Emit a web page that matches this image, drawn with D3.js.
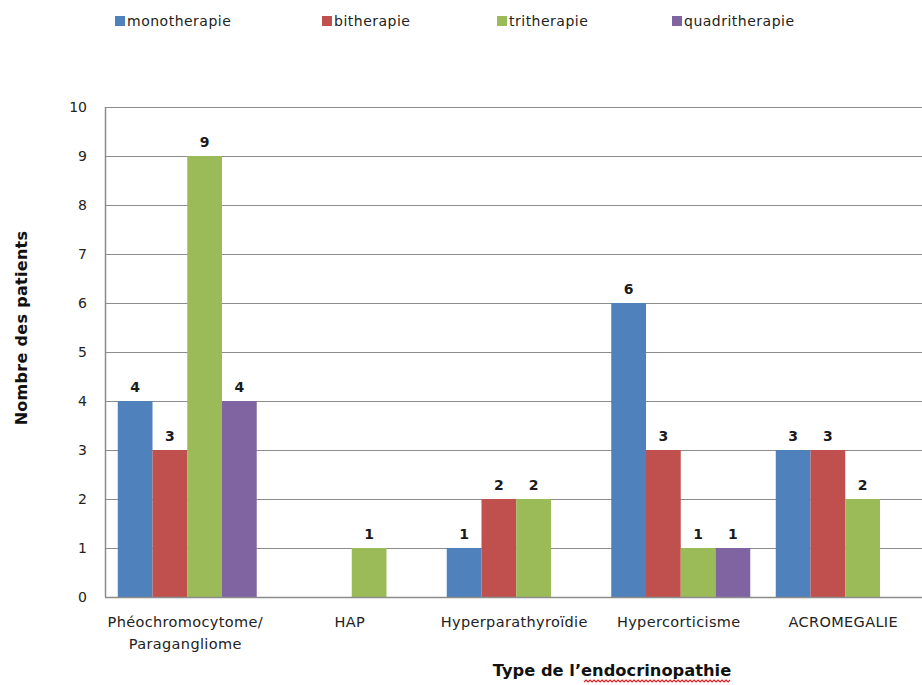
<!DOCTYPE html>
<html>
<head>
<meta charset="utf-8">
<script src="https://cdn.jsdelivr.net/npm/d3@7"></script>
<style>
  html, body { margin: 0; padding: 0; background: #fff; overflow: hidden; }
  svg { display: block; font-family: "DejaVu Sans", sans-serif; }
</style>
</head>
<body>
<svg id="chart" width="922" height="685"></svg>
<script>
const categories = ["Phéochromocytome/\nParagangliome", "HAP", "Hyperparathyroïdie", "Hypercorticisme", "ACROMEGALIE"];
const seriesNames = ["monotherapie", "bitherapie", "tritherapie", "quadritherapie"];
const monotherapie = [4, null, 1, 6, 3];
const bitherapie = [3, null, 2, 3, 3];
const tritherapie = [9, 1, 2, 1, 2];
const quadritherapie = [4, null, null, 1, null];
const yTicks = [0, 1, 2, 3, 4, 5, 6, 7, 8, 9, 10];
const colors = ["#4F81BD", "#C0504D", "#9BBB59", "#8064A2"];
const yTitle = "Nombre des patients";
const xTitle = "Type de l\u2019endocrinopathie";

const seriesValues = [monotherapie, bitherapie, tritherapie, quadritherapie];

// flatten into bar records built from the arrays
const bars = [];
categories.forEach((c, ci) => {
  seriesValues.forEach((vals, si) => {
    if (vals[ci] != null) bars.push({ ci, si, v: vals[ci] });
  });
});

const svg = d3.select("#chart");
const plot = { left: 105, top: 107, right: 927.5, bottom: 597 };

const x0 = d3.scaleBand().domain(d3.range(categories.length)).range([plot.left, plot.right]).paddingInner(0).paddingOuter(0);
const x1 = d3.scaleBand().domain(d3.range(seriesNames.length)).range([0, x0.bandwidth()]).paddingInner(0).paddingOuter(0.367);
const y = d3.scaleLinear().domain([0, 10]).range([plot.bottom, plot.top]);

// gridlines
svg.append("g").selectAll("line").data(yTicks.filter(t => t > 0)).join("line")
  .attr("x1", plot.left).attr("x2", 922)
  .attr("y1", d => y(d) + 0.5).attr("y2", d => y(d) + 0.5)
  .attr("stroke", "#8c8c8c").attr("stroke-width", 1.2);

// bars
svg.append("g").selectAll("rect").data(bars).join("rect")
  .attr("x", d => x0(d.ci) + x1(d.si))
  .attr("width", x1.bandwidth())
  .attr("y", d => y(d.v))
  .attr("height", d => y(0) - y(d.v))
  .attr("fill", d => colors[d.si]);

// data labels
svg.append("g").selectAll("text").data(bars).join("text")
  .attr("x", d => x0(d.ci) + x1(d.si) + x1.bandwidth() / 2)
  .attr("y", d => y(d.v) - 9)
  .attr("text-anchor", "middle")
  .attr("font-size", 14).attr("font-weight", "bold").attr("fill", "#1a1a1a")
  .text(d => d.v);

// axes lines
svg.append("line").attr("x1", plot.left + 0.5).attr("x2", plot.left + 0.5)
  .attr("y1", y(10)).attr("y2", y(0)).attr("stroke", "#8c8c8c").attr("stroke-width", 1.5);
svg.append("line").attr("x1", plot.left).attr("x2", 922)
  .attr("y1", y(0) + 0.5).attr("y2", y(0) + 0.5).attr("stroke", "#8c8c8c").attr("stroke-width", 1.5);

// y tick labels
svg.append("g").selectAll("text").data(yTicks).join("text")
  .attr("x", 87).attr("y", d => y(d) + 5)
  .attr("text-anchor", "end").attr("font-size", 14).attr("fill", "#222")
  .text(d => d);

// category labels
svg.append("g").selectAll("text").data(categories).join("text")
  .attr("x", (d, i) => x0(i) + x0.bandwidth() / 2 - 2)
  .attr("y", 627)
  .attr("text-anchor", "middle").attr("font-size", 14.5).attr("letter-spacing", 0.35).attr("fill", "#222")
  .each(function(d) {
    const lines = d.split("\n");
    const t = d3.select(this);
    lines.forEach((l, k) => {
      t.append("tspan").attr("x", t.attr("x")).attr("dy", k === 0 ? 0 : 22).text(l);
    });
  });

// y title
svg.append("text")
  .attr("transform", "translate(27,328) rotate(-90)")
  .attr("text-anchor", "middle").attr("font-size", 16).attr("font-weight", "bold").attr("letter-spacing", 0.3).attr("fill", "#111")
  .text(yTitle);

// x title
const xTitleSize = 16.3;
const xt = svg.append("text")
  .attr("x", 612).attr("y", 676)
  .attr("text-anchor", "middle").attr("font-size", xTitleSize).attr("font-weight", "bold").attr("fill", "#111")
  .text(xTitle);

// spell-check style squiggle under "endocrinopathie"
(function() {
  const bb = xt.node().getBBox();
  const full = xt.node().getComputedTextLength();
  const prefix = "Type de l\u2019";
  const tmp = svg.append("text").attr("font-size", xTitleSize).attr("font-weight", "bold").text(prefix);
  const pw = tmp.node().getComputedTextLength();
  tmp.remove();
  const xs0 = bb.x + pw + 3, xs1 = bb.x + full, yy = 682;
  let dpath = `M${xs0},${yy}`;
  let up = true;
  for (let xx = xs0 + 2; xx <= xs1; xx += 2) { dpath += `L${xx},${up ? yy - 2 : yy}`; up = !up; }
  svg.append("path").attr("d", dpath).attr("fill", "none").attr("stroke", "#e02020").attr("stroke-width", 1.2);
})();

// legend
const legendX = [115, 322, 497, 672];
const lg = svg.append("g").selectAll("g").data(seriesNames).join("g")
  .attr("transform", (d, i) => `translate(${legendX[i]},16)`);
lg.append("rect").attr("width", 10).attr("height", 10).attr("fill", (d, i) => colors[i]);
lg.append("text").attr("x", 12).attr("y", 10).attr("font-size", 14).attr("letter-spacing", 0.5).attr("fill", "#222").text(d => d);
</script>
</body>
</html>
